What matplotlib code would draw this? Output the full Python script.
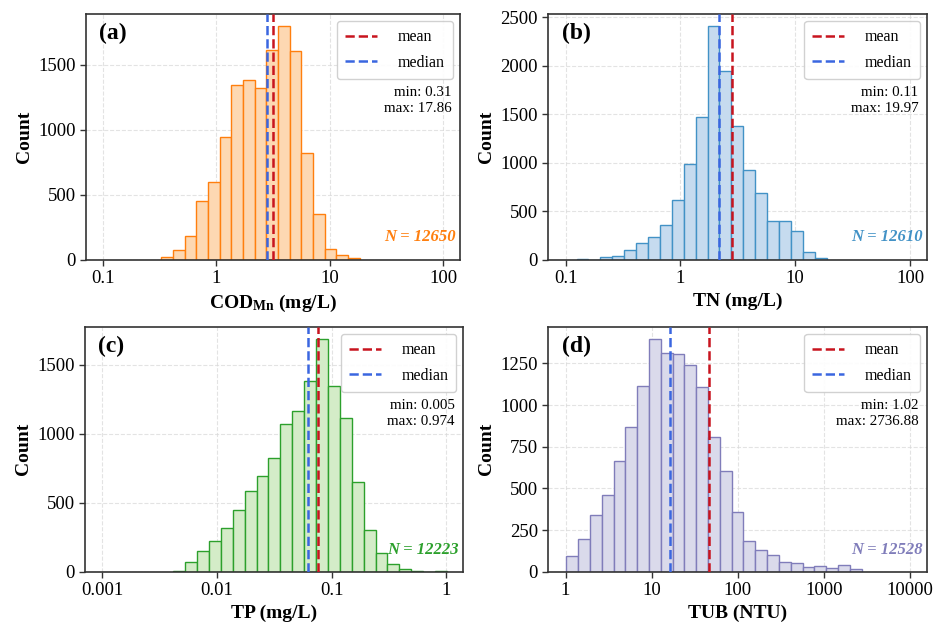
import numpy as np
import matplotlib
matplotlib.use("Agg")
import matplotlib.pyplot as plt
from matplotlib.ticker import FuncFormatter, MultipleLocator, NullLocator, LogLocator

plt.rcParams['font.family'] = ['Liberation Serif', 'DejaVu Serif']
plt.rcParams['mathtext.fontset'] = 'custom'
plt.rcParams['mathtext.rm'] = 'Liberation Serif'
plt.rcParams['mathtext.bf'] = 'Liberation Serif:bold'
plt.rcParams['mathtext.it'] = 'Liberation Serif:italic'

# ---------------- data ----------------
labels = ['(a)', '(b)', '(c)', '(d)']
xlabels = [r'COD$_{\mathbf{Mn}}$ (mg/L)', 'TN (mg/L)', 'TP (mg/L)', 'TUB (NTU)']

a_counts = [20, 77, 180, 451, 597, 946, 1346, 1385, 1323, 1618, 1803, 1608, 821, 349, 79, 36, 15]
b_counts = [10, 0, 21, 41, 93, 175, 230, 361, 618, 990, 1471, 2412, 1941, 1374, 924, 691,
            402, 402, 289, 82, 14]
c_counts = [5, 72, 147, 221, 313, 450, 582, 695, 820, 1067, 1164, 1382, 1688, 1344, 1111,
            649, 305, 139, 53, 19, 5, 0, 5]
d_counts = [94, 197, 338, 462, 663, 866, 1112, 1399, 1315, 1309, 1238, 1106, 810, 605, 356,
            183, 133, 103, 56, 50, 26, 32, 24, 38, 16]

# histogram range (first / last bin edge)
a_range = (0.3275, 18.46)
b_range = (0.1247, 18.80)
c_range = (0.00416, 1.014)
d_range = (1.02, 2736.88)

means = [3.16, 2.83, 0.0762, 45.7]
medians = [2.78, 2.17, 0.0628, 16.3]
mins = ['0.31', '0.11', '0.005', '1.02']
maxs = ['17.86', '19.97', '0.974', '2736.88']
ns = [12650, 12610, 12223, 12528]

xtick_ranges = [(0.1, 100), (0.1, 100), (0.001, 1), (1, 10000)]
ystep = [500, 500, 500, 250]

edge_colors = ['#ff7f0e', '#4292c6', '#2ca02c', '#807dba']
fill_colors = ['#fdd8b2', '#c6dbef', '#d4ecc8', '#dadaeb']
mean_color = '#c8141e'
median_color = '#3a66e0'

counts_all = [a_counts, b_counts, c_counts, d_counts]
ranges_all = [a_range, b_range, c_range, d_range]

# ---------------- figure ----------------
fig = plt.figure(figsize=(9.45, 6.34), dpi=100)
W, H = 945.0, 634.0
boxes = [(86, 14, 460, 259.5), (548.3, 14, 927.3, 259.5),
         (85, 327, 463.5, 571.7), (548.3, 327, 927.3, 571.7)]

for i in range(4):
    x0, y0, x1, y1 = boxes[i]
    ax = fig.add_axes([x0 / W, 1 - y1 / H, (x1 - x0) / W, (y1 - y0) / H])
    counts = np.array(counts_all[i], dtype=float)
    lo, hi = ranges_all[i]
    edges = np.logspace(np.log10(lo), np.log10(hi), len(counts) + 1)
    centers = np.sqrt(edges[:-1] * edges[1:])
    ax.hist(centers, bins=edges, weights=counts, facecolor=fill_colors[i],
            edgecolor=edge_colors[i], linewidth=1.0, zorder=2)
    ax.set_xscale('log')
    tlo, thi = xtick_ranges[i]
    llo, lhi = np.log10(tlo), np.log10(thi)
    m = 0.05 * (lhi - llo)
    ax.set_xlim(10 ** (llo - m), 10 ** (lhi + m))
    ax.set_ylim(0, counts.max() * 1.05)
    ax.xaxis.set_major_locator(LogLocator(base=10, numticks=10))
    ax.xaxis.set_minor_locator(NullLocator())
    ax.xaxis.set_major_formatter(FuncFormatter(lambda v, p: '%g' % v))
    ax.yaxis.set_major_locator(MultipleLocator(ystep[i]))

    ax.axvline(means[i], color=mean_color, ls='--', lw=1.8, label='mean', zorder=3)
    ax.axvline(medians[i], color=median_color, ls='--', lw=1.8, label='median', zorder=3)

    ax.grid(True, ls='--', color='#d8d8d8', lw=0.8, alpha=0.7)
    ax.set_axisbelow(True)
    for s in ax.spines.values():
        s.set_color('#333333')
        s.set_linewidth(1.2)
    ax.tick_params(axis='both', labelsize=13.5, length=4, width=1.0, color='#333333')

    ax.set_xlabel(xlabels[i], fontsize=14, fontweight='bold', labelpad=4)
    ax.set_ylabel('Count', fontsize=14, fontweight='bold')

    ax.text(0.035, 0.92, labels[i], transform=ax.transAxes, fontsize=17,
            fontweight='bold', ha='left', va='center', zorder=5)
    leg = ax.legend(loc='upper right', fontsize=11.5, framealpha=0.9,
                    edgecolor='#cccccc', borderpad=0.5, labelspacing=0.6,
                    handlelength=2.0, handletextpad=1.3, borderaxespad=0.45)
    leg.set_zorder(6)
    ax.text(0.977, 0.705, 'min: %s\nmax: %s' % (mins[i], maxs[i]),
            transform=ax.transAxes, fontsize=10.8, ha='right', va='top',
            linespacing=1.3, zorder=5)
    ax.text(0.988, 0.09, 'N = %d' % ns[i], transform=ax.transAxes, fontsize=12,
            fontweight='bold', fontstyle='italic', color=edge_colors[i],
            ha='right', va='center', zorder=5)

fig.savefig('out.png', dpi=100)
